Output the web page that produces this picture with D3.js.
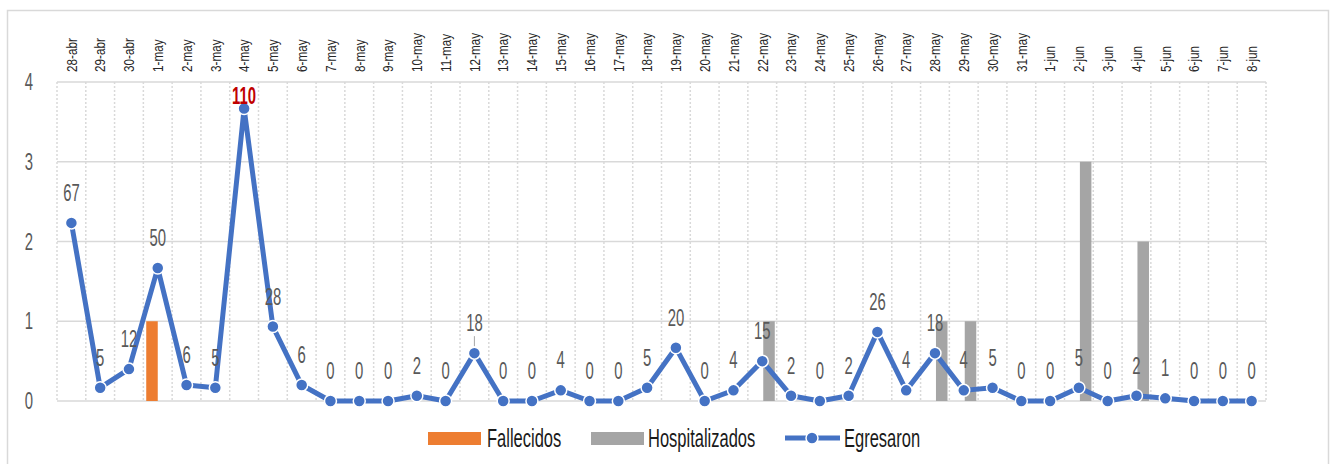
<!DOCTYPE html>
<html>
<head>
<meta charset="utf-8">
<script src="https://cdn.jsdelivr.net/npm/d3@7"></script>
<style>
  body{margin:0;background:#fff;}
  svg text{font-family:"Liberation Sans",Arial,sans-serif;}
</style>
</head>
<body>
<div class="canvas"></div>
<script>
// data
const fechas=['28-abr','29-abr','30-abr','1-may','2-may','3-may','4-may','5-may','6-may','7-may','8-may','9-may','10-may','11-may','12-may','13-may','14-may','15-may','16-may','17-may','18-may','19-may','20-may','21-may','22-may','23-may','24-may','25-may','26-may','27-may','28-may','29-may','30-may','31-may','1-jun','2-jun','3-jun','4-jun','5-jun','6-jun','7-jun','8-jun'];
const fallecidos=[0,0,0,1,0,0,0,0,0,0,0,0,0,0,0,0,0,0,0,0,0,0,0,0,0,0,0,0,0,0,0,0,0,0,0,0,0,0,0,0,0,0];
const hospitalizados=[0,0,0,0,0,0,0,0,0,0,0,0,0,0,0,0,0,0,0,0,0,0,0,0,1,0,0,0,0,0,1,1,0,0,0,3,0,2,0,0,0,0];
const egresaron=[67,5,12,50,6,5,110,28,6,0,0,0,2,0,18,0,0,4,0,0,5,20,0,4,15,2,0,2,26,4,18,4,5,0,0,5,0,2,1,0,0,0];
const yTicks=[0,1,2,3,4];

const W=1330,H=464;
const svg=d3.select('.canvas').append('svg')
    .attr('width',W).attr('height',H);

// chart frame
svg.append('rect')
   .attr('x',7.5).attr('y',10.5).attr('width',1321).attr('height',470)
   .attr('fill','none').attr('stroke','#d9d9d9').attr('stroke-width',1.5);

const pLeft=57,pRight=1266,pTop=82,pBottom=401;

const x=d3.scaleBand().domain(fechas).range([pLeft,pRight]);
const y=d3.scaleLinear().domain([0,4]).range([pBottom,pTop]);
const y2=d3.scaleLinear().domain([0,120]).range([pBottom,pTop]); // hidden secondary axis

// vertical dotted gridlines at band edges
const edges=fechas.map(d=>x(d)).concat([pRight]);
svg.append('g').selectAll('line').data(edges).enter().append('line')
   .attr('x1',d=>d).attr('x2',d=>d).attr('y1',pTop).attr('y2',pBottom)
   .attr('stroke','#d9d9d9').attr('stroke-width',1.5).attr('stroke-dasharray','2,2');

// horizontal gridlines
svg.append('g').selectAll('line').data(yTicks).enter().append('line')
   .attr('x1',pLeft).attr('x2',pRight).attr('y1',d=>y(d)).attr('y2',d=>y(d))
   .attr('stroke','#d9d9d9').attr('stroke-width',1.5);

// y axis labels (narrow look via scaleX)
const yAxis=d3.axisLeft(y).tickValues(yTicks).tickSize(0).tickPadding(0).tickFormat(d3.format('d'));
const yAxisGroup=svg.append('g').attr('transform','translate(33,0)').call(yAxis);
yAxisGroup.select('.domain').remove();
yAxisGroup.selectAll('text').attr('font-size',24).attr('fill','#595959')
   .attr('font-family','"Liberation Sans",sans-serif')
   .attr('transform','scale(0.62,1)');

// x labels on top, rotated
const xAxis=d3.axisTop(x).tickSize(0).tickPadding(0);
const xAxisGroup=svg.append('g').attr('transform','translate(0,72)').call(xAxis);
xAxisGroup.select('.domain').remove();
xAxisGroup.selectAll('text')
   .attr('transform','rotate(-90) scale(0.78,1)')
   .attr('text-anchor','start')
   .attr('x',0).attr('y',0).attr('dy','0.35em')
   .attr('font-size',15).attr('fill','#262626')
   .attr('font-family','"Liberation Sans",sans-serif');

// clustered bars
const bw=x.bandwidth()*0.4;
svg.append('g').selectAll('rect').data(fallecidos).enter().append('rect')
   .attr('x',(d,i)=>x(fechas[i])+x.bandwidth()/2-bw)
   .attr('y',d=>y(d)).attr('width',bw).attr('height',d=>pBottom-y(d))
   .attr('fill','#ed7d31');
svg.append('g').selectAll('rect').data(hospitalizados).enter().append('rect')
   .attr('x',(d,i)=>x(fechas[i])+x.bandwidth()/2+1)
   .attr('y',d=>y(d)).attr('width',bw).attr('height',d=>pBottom-y(d))
   .attr('fill','#a5a5a5');

// egresaron line
const cx=(d,i)=>x(fechas[i])+x.bandwidth()/2;
const line=d3.line().x(cx).y(d=>y2(d));
svg.append('path').datum(egresaron).attr('d',line)
   .attr('fill','none').attr('stroke','#4472c4').attr('stroke-width',5)
   .attr('stroke-linejoin','round');
svg.append('g').selectAll('circle').data(egresaron).enter().append('circle')
   .attr('cx',cx).attr('cy',d=>y2(d)).attr('r',6)
   .attr('fill','#4472c4').attr('stroke','#fff').attr('stroke-width',1.5);

// leader line for 12-may label
const i12=fechas.indexOf('12-may');
svg.append('line')
   .attr('x1',cx(0,i12)).attr('x2',cx(0,i12))
   .attr('y1',y2(egresaron[i12])-7).attr('y2',y2(egresaron[i12])-17)
   .attr('stroke','#a6a6a6').attr('stroke-width',1);

// data labels
const maxVal=d3.max(egresaron);
svg.append('g').selectAll('g').data(egresaron).enter().append('g')
   .attr('transform',(d,i)=>`translate(${cx(d,i)},${d===maxVal?y2(d)-5:y2(d)-22})`)
  .append('text')
   .attr('text-anchor','middle')
   .attr('transform','scale(0.62,1)')
   .attr('font-size',24)
   .attr('font-weight',d=>d===maxVal?'bold':'normal')
   .attr('fill',d=>d===maxVal?'#c00000':'#595959')
   .text(d=>d);

// legend
const legend=svg.append('g').attr('transform','translate(0,438)');
const legText=(xp,t)=>legend.append('g').attr('transform',`translate(${xp},9)`)
   .append('text').attr('transform','scale(0.66,1)').attr('font-size',25).attr('fill','#1a1a1a').text(t);
legend.append('rect').attr('x',428).attr('y',-6).attr('width',53).attr('height',13).attr('fill','#ed7d31');
legText(487,'Fallecidos');
legend.append('rect').attr('x',591).attr('y',-6).attr('width',53).attr('height',13).attr('fill','#a5a5a5');
legText(648,'Hospitalizados');
legend.append('line').attr('x1',785).attr('x2',840).attr('y1',0).attr('y2',0)
   .attr('stroke','#4472c4').attr('stroke-width',5);
legend.append('circle').attr('cx',812).attr('cy',0).attr('r',6)
   .attr('fill','#4472c4').attr('stroke','#fff').attr('stroke-width',1.5);
legText(844,'Egresaron');
</script>
</body>
</html>
